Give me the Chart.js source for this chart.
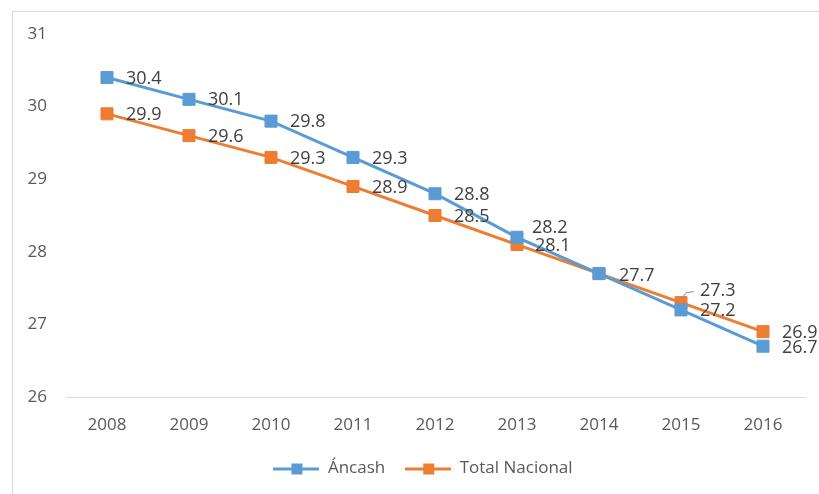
<!DOCTYPE html>
<html>
<head>
<meta charset="utf-8">
<script src="https://cdn.jsdelivr.net/npm/chart.js@4.4.0/dist/chart.umd.min.js"></script>
<style>
html, body { margin: 0; padding: 0; background: #fff; }
</style>
</head>
<body>
<canvas id="chart" width="819" height="494"></canvas>
<script>
// data
const years = ['2008', '2009', '2010', '2011', '2012', '2013', '2014', '2015', '2016'];
const ancash = [30.4, 30.1, 29.8, 29.3, 28.8, 28.2, 27.7, 27.2, 26.7];
const total = [29.9, 29.6, 29.3, 28.9, 28.5, 28.1, 27.7, 27.3, 26.9];
const seriesNames = ['Áncash', 'Total Nacional'];

// where each value label sits, relative to its point (dx, dy, leader line)
const ancashLabelPos = [[19, 1], [19, 1], [19, 1], [19, 1], [19, 1], [15, -9], null, [19, 1], [19, 2]];
const totalLabelPos = [[19, 1], [19, 1], [19, 1], [19, 1], [19, 1], [18, 1], [20, 2], [19, -12, true], [19, 1]];

const blue = '#5B9BD5';
const orange = '#ED7D31';
const textGray = '#595959';
const FONT = '"Open Sans", "Noto Sans", sans-serif';

// small icon for the legend: line with a square in the middle
function legendIcon(color) {
    const c = document.createElement('canvas');
    c.width = 46;
    c.height = 14;
    const g = c.getContext('2d');
    g.fillStyle = color;
    g.fillRect(0, 6, 46, 3);
    g.fillRect(18, 2, 11, 11);
    return c;
}

// thin frame round the chart (left and top edges show)
const frame = {
    id: 'frame',
    beforeDraw(chart) {
        const ctx = chart.ctx;
        ctx.save();
        ctx.strokeStyle = '#d9d9d9';
        ctx.lineWidth = 1;
        ctx.beginPath();
        ctx.moveTo(12.5, 494);
        ctx.lineTo(12.5, 11.5);
        ctx.lineTo(819, 11.5);
        ctx.stroke();
        ctx.restore();
    }
};

// the legend sits a little right of the middle in the original
const legendShift = {
    id: 'legendShift',
    afterLayout(chart) {
        if (chart.legend) {
            chart.legend.left += 15;
            chart.legend.right += 15;
        }
    }
};

// value labels next to the points
const pointLabels = {
    id: 'pointLabels',
    afterDatasetsDraw(chart) {
        const ctx = chart.ctx;
        ctx.save();
        ctx.font = '18px ' + FONT;
        ctx.textBaseline = 'middle';
        ctx.textAlign = 'left';
        chart.data.datasets.forEach((ds, i) => {
            const meta = chart.getDatasetMeta(i);
            meta.data.forEach((pt, j) => {
                const pos = ds.labelPos[j];
                if (!pos) return;
                const x = pt.x + pos[0];
                const y = pt.y + pos[1];
                if (pos[2]) {
                    // leader line from the point up to the label
                    ctx.strokeStyle = '#8c8c8c';
                    ctx.lineWidth = 1;
                    ctx.beginPath();
                    ctx.moveTo(pt.x + 1, pt.y - 4);
                    ctx.lineTo(pt.x + 5, y + 2);
                    ctx.lineTo(pt.x + 13, y + 1);
                    ctx.stroke();
                }
                ctx.fillStyle = '#404040';
                ctx.fillText(ds.data[j].toFixed(1), x, y);
            });
        });
        ctx.restore();
    }
};

const data = {
    labels: years,
    datasets: [{
        label: seriesNames[0],
        data: ancash,
        labelPos: ancashLabelPos,
        borderColor: blue,
        backgroundColor: blue,
        pointBackgroundColor: blue,
        pointBorderColor: blue,
        borderWidth: 3,
        pointStyle: 'rect',
        pointRadius: 8.5,
        pointHoverRadius: 8.5,
        pointBorderWidth: 1,
        tension: 0,
        order: 1
    }, {
        label: seriesNames[1],
        data: total,
        labelPos: totalLabelPos,
        borderColor: orange,
        backgroundColor: orange,
        pointBackgroundColor: orange,
        pointBorderColor: orange,
        borderWidth: 3,
        pointStyle: 'rect',
        pointRadius: 8.5,
        pointHoverRadius: 8.5,
        pointBorderWidth: 1,
        tension: 0,
        order: 2
    }]
};

const icons = [legendIcon(blue), legendIcon(orange)];

const config = {
    type: 'line',
    data: data,
    options: {
        responsive: false,
        animation: false,
        layout: { padding: { left: 12, right: 15, top: 34, bottom: 7 } },
        scales: {
            x: {
                offset: true,
                grid: { display: false, drawTicks: false, offset: true },
                border: { display: true, color: '#d9d9d9', width: 1 },
                ticks: { color: textGray, font: { size: 17, family: FONT }, padding: 18, maxRotation: 0 },
                afterFit(scale) { scale.height = 43; }
            },
            y: {
                min: 26,
                max: 31,
                grid: { display: false, drawTicks: false },
                border: { display: false },
                ticks: { stepSize: 1, color: textGray, font: { size: 17, family: FONT }, padding: 19 },
                afterFit(scale) { scale.width = 54; }
            }
        },
        plugins: {
            tooltip: { enabled: false },
            legend: {
                position: 'bottom',
                labels: {
                    usePointStyle: true,
                    pointStyleWidth: 46,
                    padding: 20,
                    color: textGray,
                    font: { size: 17, family: FONT },
                    generateLabels(chart) {
                        const items = Chart.defaults.plugins.legend.labels.generateLabels(chart);
                        items.forEach((it, k) => { it.pointStyle = icons[k]; });
                        return items;
                    }
                }
            }
        }
    },
    plugins: [frame, legendShift, pointLabels]
};

const chart = new Chart(document.getElementById('chart'), config);
</script>
</body>
</html>
